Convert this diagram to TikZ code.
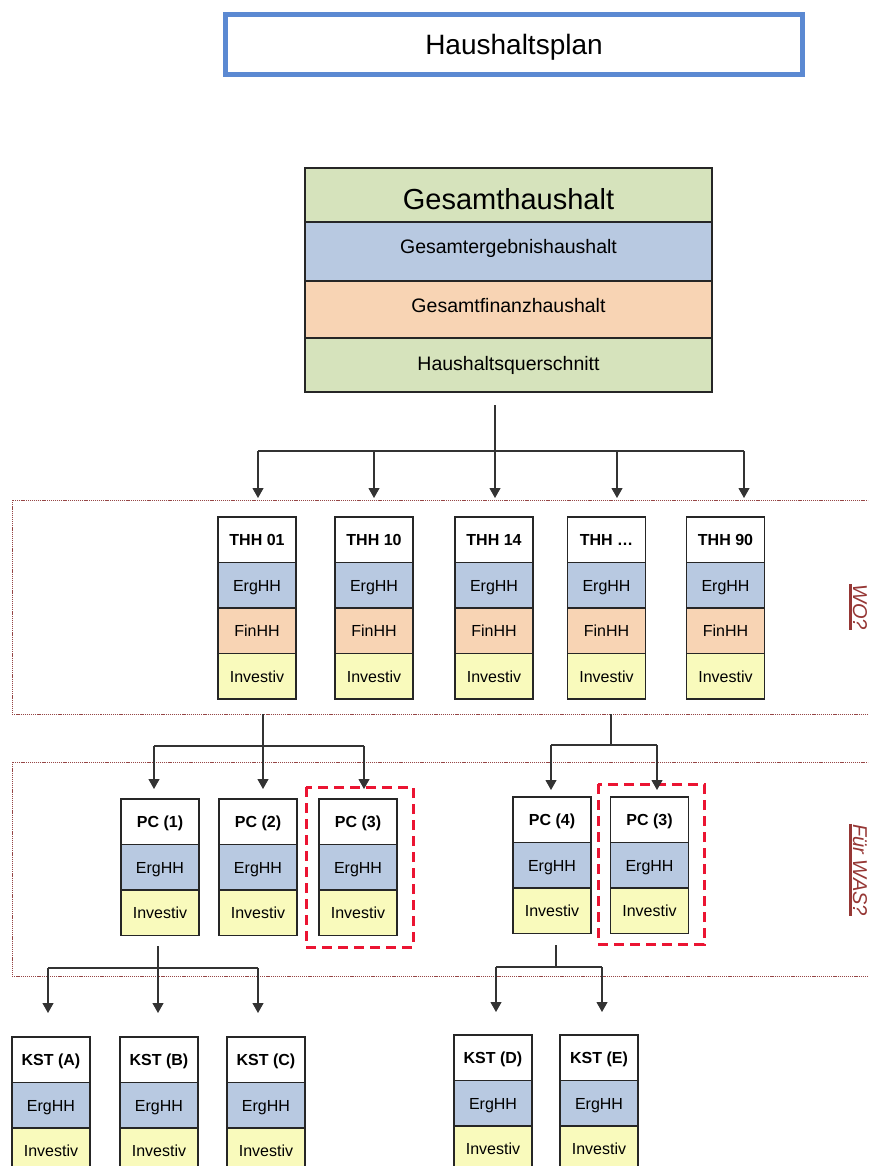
\documentclass[tikz,border=0pt]{standalone}
\usepackage{fontspec}
\setmainfont{Liberation Sans}
\usetikzlibrary{arrows.meta,calc}
\definecolor{ergc}{RGB}{184,201,225}
\definecolor{finc}{RGB}{248,212,180}
\definecolor{invc}{RGB}{249,250,188}
\definecolor{gesc}{RGB}{214,227,188}
\definecolor{titc}{RGB}{91,137,210}
\definecolor{dotc}{RGB}{150,70,70}
\definecolor{labc}{RGB}{150,55,53}
\definecolor{dashc}{RGB}{235,20,50}
\newcommand\thhstack[4]{%
  \node[hdr] (#1) at (#2,#3) {#4};
  \node[erg] (#1e) at (#1.south) {ErgHH};
  \node[fin] (#1f) at (#1e.south) {FinHH};
  \node[inv] (#1i) at (#1f.south) {Investiv};}
\newcommand\pcstack[4]{%
  \node[hdr] (#1) at (#2,#3) {#4};
  \node[erg] (#1e) at (#1.south) {ErgHH};
  \node[inv] (#1i) at (#1e.south) {Investiv};}
\begin{document}
\begin{tikzpicture}[x=1pt,y=-1pt,
  cell/.style={draw=black!85, line width=1.1pt, minimum width=78pt, minimum height=45.5pt, inner sep=0pt, outer sep=0pt, anchor=north, font=\fontsize{16}{18}\selectfont, text height=11.5pt, text depth=0pt},
  hdr/.style={cell, fill=white, font=\fontsize{16}{18}\selectfont\bfseries},
  erg/.style={cell, fill=ergc},
  fin/.style={cell, fill=finc},
  inv/.style={cell, fill=invc},
  gcell/.style={draw=black!85, line width=1.1pt, minimum width=407pt, inner sep=0pt, outer sep=0pt, anchor=north, font=\fontsize{19.5}{22}\selectfont},
  conn/.style={draw=black!80, line width=1.1pt},
  arr/.style={conn, -{Triangle[width=11pt,length=10pt]}},
  zone/.style={draw=dotc, line width=0.8pt, dash pattern=on 1.2pt off 0.9pt},
  hl/.style={draw=dashc, line width=3pt, dash pattern=on 10pt off 6pt},
  lab/.style={rotate=-90, text=labc, font=\fontsize{20}{24}\selectfont\itshape, inner sep=0pt, anchor=base},
  ul/.style={draw=labc, line width=2.2pt}
]
\useasboundingbox (0,0) rectangle (868,1166);
\clip (0,0) rectangle (868,1166);
\fill[white] (0,0) rectangle (868,1166);

% title
\node[draw=titc, line width=5pt, minimum width=577pt, minimum height=60pt, inner sep=0pt, font=\fontsize{28}{32}\selectfont, text height=20pt, text depth=0pt] (title) at (514,44.5) {Haushaltsplan};

% zones
\draw[zone] (12,500) rectangle (890,714);
\draw[zone] (12,762) rectangle (890,976);

% overall budget
\node[gcell, fill=gesc, minimum height=54pt, font=\fontsize{29}{33}\selectfont, text height=28.5pt, text depth=0pt] (g1) at (508.5,168) {Gesamthaushalt};
\node[gcell, fill=ergc, minimum height=59pt, text height=14pt, text depth=9pt] (g2) at (g1.south) {Gesamtergebnishaushalt};
\node[gcell, fill=finc, minimum height=57pt, text height=14pt, text depth=9pt] (g3) at (g2.south) {Gesamtfinanzhaushalt};
\node[gcell, fill=gesc, minimum height=54pt, text height=14pt, text depth=3pt] (g4) at (g3.south) {Haushaltsquerschnitt};

% THH
\thhstack{thA}{257}{517}{THH 01}
\thhstack{thB}{374}{517}{THH 10}
\thhstack{thC}{494}{517}{THH 14}
\thhstack{thD}{606.5}{517}{THH …}
\thhstack{thE}{725.5}{517}{THH 90}

% PC
\pcstack{pcA}{160}{799}{PC (1)}
\pcstack{pcB}{258}{799}{PC (2)}
\pcstack{pcC}{358}{799}{PC (3)}
\pcstack{pcD}{552}{797}{PC (4)}
\pcstack{pcE}{649.5}{797}{PC (3)}

% KST
\pcstack{kA}{51}{1037}{KST (A)}
\pcstack{kB}{159}{1037}{KST (B)}
\pcstack{kC}{266}{1037}{KST (C)}
\pcstack{kD}{493}{1035}{KST (D)}
\pcstack{kE}{599}{1035}{KST (E)}

% highlight frames
\draw[hl] (306,787) rectangle (413,947);
\draw[hl] (598,784) rectangle (704,944);

% connectors level 1
\coordinate (s0) at (495,405);
\foreach \n/\x in {1/258,2/374,3/495,4/617,5/744}{
  \coordinate (b\n) at (\x,451);
  \coordinate (a\n) at (\x,498);
}
\draw[conn] (b1) -- (b5);
\draw[arr] (s0) -- (a3);
\foreach \n in {1,2,4,5} \draw[arr] (b\n) -- (a\n);

% connectors level 2
\coordinate (sL) at (263,714);
\foreach \n/\x in {1/154,2/263,3/364}{
  \coordinate (c\n) at (\x,746);
  \coordinate (d\n) at (\x,789);
}
\draw[conn] (c1) -- (c3);
\draw[arr] (sL) -- (d2);
\draw[arr] (c1) -- (d1);
\draw[arr] (c3) -- (d3);

\coordinate (sR) at (611,714);
\coordinate (cR) at (611,745);
\foreach \n/\x in {4/551,5/657}{
  \coordinate (c\n) at (\x,745);
  \coordinate (d\n) at (\x,790);
}
\draw[conn] (sR) -- (cR);
\draw[conn] (c4) -- (c5);
\draw[arr] (c4) -- (d4);
\draw[arr] (c5) -- (d5);

% connectors level 3
\coordinate (tL) at (158,946);
\foreach \n/\x in {1/48,2/158,3/258}{
  \coordinate (e\n) at (\x,968);
  \coordinate (f\n) at (\x,1013);
}
\draw[conn] (e1) -- (e3);
\draw[arr] (tL) -- (f2);
\draw[arr] (e1) -- (f1);
\draw[arr] (e3) -- (f3);

\coordinate (tR) at (556,945);
\coordinate (eR) at (556,967);
\foreach \n/\x in {4/496,5/602}{
  \coordinate (e\n) at (\x,967);
  \coordinate (f\n) at (\x,1012);
}
\draw[conn] (tR) -- (eR);
\draw[conn] (e4) -- (e5);
\draw[arr] (e4) -- (f4);
\draw[arr] (e5) -- (f5);

% side labels
\node[lab] (wo) at (853,607) {WO?};
\draw[ul] ([xshift=-2.5pt]wo.base west) -- ([xshift=-2.5pt]wo.base east);
\node[lab] (was) at (853,870) {Für WAS?};
\draw[ul] ([xshift=-2.5pt]was.base west) -- ([xshift=-2.5pt]was.base east);
\end{tikzpicture}
\end{document}
